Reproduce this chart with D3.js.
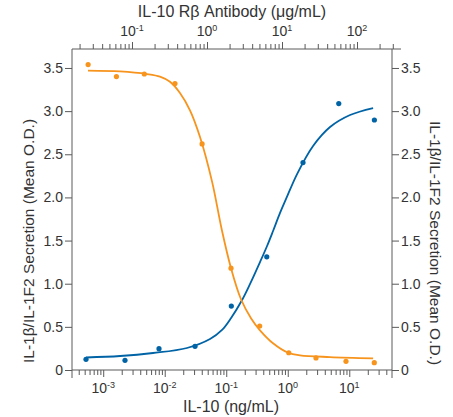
<!DOCTYPE html>
<html><head><meta charset="utf-8">
<script src="https://cdn.jsdelivr.net/npm/d3@7"></script>
<style>body{margin:0;background:#fff}</style>
</head><body>
<svg id="c" width="453" height="417"></svg>
<script>
// ---- data ----
const yTicks = [0, 0.5, 1, 1.5, 2, 2.5, 3, 3.5];
const yTickLabels = ["0", "0.5", "1.0", "1.5", "2.0", "2.5", "3.0", "3.5"];
const bottomExps = [-3, -2, -1, 0, 1];
const topExps = [-1, 0, 1, 2];

// antibody neutralization (top axis, µg/mL)
const antibodyDose = [0.026, 0.062, 0.146, 0.374, 0.86, 2.09, 5.04, 12.3, 28.4, 71.3, 170];
const antibodyOD   = [3.54, 3.40, 3.43, 3.32, 2.62, 1.18, 0.51, 0.20, 0.14, 0.10, 0.085];
// IL-10 dose response (bottom axis, ng/mL)
const il10Dose = [0.000525, 0.00226, 0.00807, 0.0311, 0.121, 0.456, 1.77, 6.75, 25.6];
const il10OD   = [0.124, 0.112, 0.247, 0.274, 0.741, 1.311, 2.404, 3.087, 2.897];

// fitted curves
const antibodyFitDose = [0.0259, 0.0692, 0.158, 0.236, 0.321, 0.436, 0.593, 0.807, 1.17, 1.58, 2.09, 2.84, 3.86, 5.09, 7.59, 12.1, 17.4, 43.7, 164];
const antibodyFitOD   = [3.47, 3.46, 3.43, 3.40, 3.34, 3.21, 3.01, 2.70, 2.18, 1.62, 1.18, 0.82, 0.60, 0.46, 0.31, 0.20, 0.17, 0.15, 0.135];
const il10FitDose = [0.000525, 0.00188, 0.00645, 0.0230, 0.0545, 0.0855, 0.120, 0.181, 0.244, 0.355, 0.461, 0.577, 0.749, 0.938, 1.417, 2.58, 4.87, 10.3, 24.4];
const il10FitOD   = [0.145, 0.162, 0.197, 0.255, 0.359, 0.464, 0.603, 0.811, 0.997, 1.252, 1.437, 1.611, 1.820, 1.982, 2.271, 2.596, 2.816, 2.955, 3.036];

const orange = "#f7941d", blue = "#0063a5", axisCol = "#5a5a5a", textCol = "#333";
const font = "'Liberation Sans', Arial, sans-serif";

// ---- scales ----
const y = d3.scaleLinear().domain([0, 3.72]).range([370, 49]);
const xBot = d3.scaleLog().domain([3.11e-4, 49.5]).range([72, 392]);
const xTop = d3.scaleLog().domain([0.01585, 386]).range([72, 401]);

const svg = d3.select("#c").style("font-family", font);

function logTicks(scale, majorOnly) {
  const [a, b] = scale.domain();
  const out = [];
  for (let e = Math.floor(Math.log10(a)); e <= Math.ceil(Math.log10(b)); e++) {
    for (let k = 1; k <= 9; k++) {
      const v = k * Math.pow(10, e);
      if (v >= a && v <= b && ((k === 1) === majorOnly)) out.push(v);
    }
  }
  return out;
}

function styleAxis(g) {
  g.select(".domain").remove();
  g.selectAll("line").attr("stroke", axisCol).attr("stroke-width", 1);
  g.selectAll("text").attr("fill", textCol).style("font-family", font);
}

// bottom axis
const gb = svg.append("g").attr("transform", "translate(0,370)");
gb.append("g").call(d3.axisBottom(xBot).tickValues(logTicks(xBot, false)).tickFormat("").tickSize(5)).call(styleAxis);
gb.append("g").call(d3.axisBottom(xBot).tickValues(bottomExps.map(e => Math.pow(10, e))).tickFormat("").tickSize(7)).call(styleAxis);
gb.append("line").attr("x1", 72).attr("x2", 392).attr("stroke", axisCol);
bottomExps.forEach(e => {
  const t = gb.append("text").attr("x", xBot(Math.pow(10, e))).attr("y", 23)
    .attr("text-anchor", "middle").attr("fill", textCol).style("font-size", "14px");
  t.append("tspan").text("10");
  t.append("tspan").attr("dy", -5).style("font-size", "9px").text(e < 0 ? "-" + (-e) : String(e));
});

// top axis
const gt = svg.append("g").attr("transform", "translate(0,49)");
gt.append("g").call(d3.axisTop(xTop).tickValues(logTicks(xTop, false)).tickFormat("").tickSize(5)).call(styleAxis);
gt.append("g").call(d3.axisTop(xTop).tickValues(topExps.map(e => Math.pow(10, e))).tickFormat("").tickSize(7)).call(styleAxis);
gt.append("line").attr("x1", 72).attr("x2", 401).attr("stroke", axisCol);
topExps.forEach(e => {
  const t = gt.append("text").attr("x", xTop(Math.pow(10, e))).attr("y", -13)
    .attr("text-anchor", "middle").attr("fill", textCol).style("font-size", "14px");
  t.append("tspan").text("10");
  t.append("tspan").attr("dy", -5).style("font-size", "9px").text(e < 0 ? "-" + (-e) : String(e));
});

// left axis
const gl = svg.append("g").attr("transform", "translate(72,0)");
gl.call(d3.axisLeft(y).tickValues(yTicks).tickFormat((d, i) => yTickLabels[i]).tickSize(7).tickPadding(2)).call(styleAxis);
gl.selectAll("text").style("font-size", "14px");
gl.append("line").attr("y1", 49).attr("y2", 378).attr("stroke", axisCol);

// right axis
const gr = svg.append("g").attr("transform", "translate(392,0)");
gr.call(d3.axisRight(y).tickValues(yTicks).tickFormat((d, i) => yTickLabels[i]).tickSize(7).tickPadding(2)).call(styleAxis);
gr.selectAll("text").style("font-size", "14px");
gr.append("line").attr("y1", 49).attr("y2", 378).attr("stroke", axisCol);

// titles
svg.append("text").attr("x", 232).attr("y", 17).attr("text-anchor", "middle")
  .attr("fill", textCol).style("font-size", "16px").text("IL-10 Rβ Antibody (μg/mL)");
svg.append("text").attr("x", 231).attr("y", 412).attr("text-anchor", "middle")
  .attr("fill", textCol).style("font-size", "16px").text("IL-10 (ng/mL)");
svg.append("text").attr("transform", "translate(34,241) rotate(-90)").attr("text-anchor", "middle")
  .attr("fill", textCol).style("font-size", "15.5px").text("IL-1β/IL-1F2 Secretion (Mean O.D.)");
svg.append("text").attr("transform", "translate(430,243) rotate(90)").attr("text-anchor", "middle")
  .attr("fill", textCol).style("font-size", "15.5px").text("IL-1β/IL-1F2 Secretion (Mean O.D.)");

// curves
const lineTop = d3.line().x(d => xTop(d[0])).y(d => y(d[1])).curve(d3.curveCatmullRom.alpha(0.5));
const lineBot = d3.line().x(d => xBot(d[0])).y(d => y(d[1])).curve(d3.curveCatmullRom.alpha(0.5));
svg.append("path").attr("d", lineBot(d3.zip(il10FitDose, il10FitOD)))
  .attr("fill", "none").attr("stroke", blue).attr("stroke-width", 1.8);
svg.append("path").attr("d", lineTop(d3.zip(antibodyFitDose, antibodyFitOD)))
  .attr("fill", "none").attr("stroke", orange).attr("stroke-width", 1.8);

// points
svg.append("g").selectAll("circle").data(d3.zip(il10Dose, il10OD)).join("circle")
  .attr("cx", d => xBot(d[0])).attr("cy", d => y(d[1])).attr("r", 2.6).attr("fill", blue);
svg.append("g").selectAll("circle").data(d3.zip(antibodyDose, antibodyOD)).join("circle")
  .attr("cx", d => xTop(d[0])).attr("cy", d => y(d[1])).attr("r", 2.6).attr("fill", orange);
</script>
</body></html>
